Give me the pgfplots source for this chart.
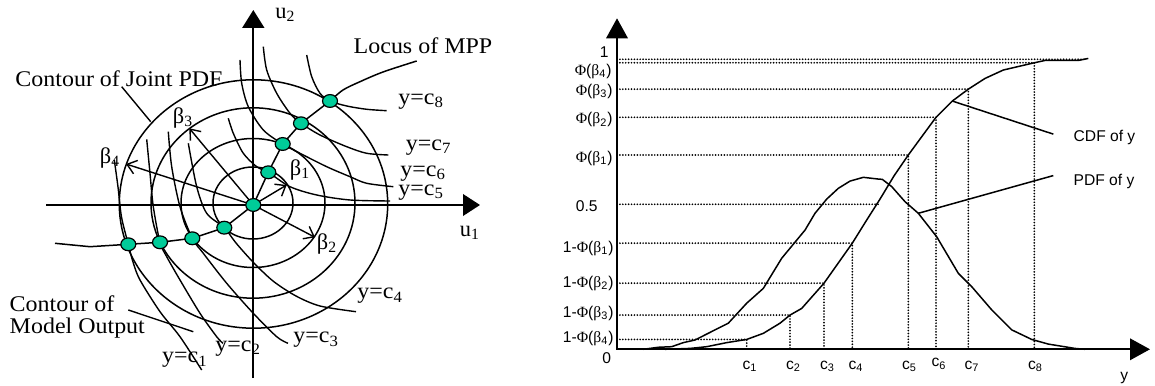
\documentclass[border=0pt]{standalone}
\usepackage{fontspec}
\setmainfont{Liberation Serif}
\newfontfamily\arial{Liberation Sans}
\usepackage{pgfplots}
\pgfplotsset{compat=1.18}
\usetikzlibrary{arrows.meta}
\definecolor{mpp}{RGB}{0,204,153}
\newcommand{\lft}{\fontsize{11.2}{13}\selectfont}
\newcommand{\rgt}{\arial\fontsize{7.8}{9}\selectfont}
\newcommand{\Pb}[1]{{\rmfamily Φ}({\rmfamily β}\textsubscript{#1})}
\tikzset{lt/.style={anchor=west, inner sep=0, font=\lft, xscale=1.07},
         dots/.style={line width=0.95pt, line cap=round, dash pattern=on 0pt off 1.45pt}}
\begin{document}
\begin{tikzpicture}
\useasboundingbox (0,0) rectangle (577.5pt,192.5pt);
% ================= LEFT PANEL (pixel coordinates, y downward) =================
\begin{axis}[at={(0pt,0pt)}, anchor=south west, scale only axis,
  width=577.5pt, height=192.5pt, xmin=0, xmax=1155, ymin=0, ymax=385,
  y dir=reverse, hide axis, clip=false]
% axes
\addplot[line width=0.9pt, -{Triangle[length=8.5pt,width=10.8pt]}] coordinates {(46,205) (480,205)};
\addplot[line width=0.9pt, -{Triangle[length=9pt,width=11pt]}] coordinates {(253.3,378) (253.3,10)};
% contours of joint PDF
\draw[line width=0.75pt] (axis cs:253,203) ellipse [x radius=40, y radius=36];
\draw[line width=0.75pt] (axis cs:253,203) ellipse [x radius=72, y radius=64.5];
\draw[line width=0.75pt] (axis cs:253,203) ellipse [x radius=102, y radius=95.2];
\draw[line width=0.75pt] (axis cs:253.5,204) ellipse [x radius=134.2, y radius=124.2];
% contours of model output y = c_i
\addplot[line width=0.7pt, smooth] coordinates {(114.3,160) (118,187) (121.5,217) (128.3,244.3) (133,262) (140,280) (160,311.7) (180,336.7) (201.7,370)};
\addplot[line width=0.7pt, smooth] coordinates {(146.7,139.3) (150,173.3) (153.3,206.7) (160,242.3) (166.7,256.7) (180,280) (200,313.3) (216.7,336.7) (223,343.3)};
\addplot[line width=0.7pt, smooth] coordinates {(168.3,131.7) (171.7,166.7) (180,206.7) (192.3,238.3) (203.3,253.3) (226.7,283.3) (253.3,313.3) (276.7,336.7) (288,343.3)};
\addplot[line width=0.7pt, smooth] coordinates {(188.3,143.3) (196.7,186.7) (206.7,213.3) (224.3,227.7) (236,243) (253,262) (273,281) (296,296) (320,306) (356,311.7)};
\addplot[line width=0.7pt, smooth] coordinates {(228.3,118.3) (233.3,133.3) (243.3,153.3) (256.7,166.7) (268.3,172.3) (290,186.7) (316.7,195) (350,200) (390,201)};
\addplot[line width=0.7pt, smooth] coordinates {(240,60) (241.7,83.3) (248.3,106.7) (263.3,130) (282.7,144) (300,153.3) (326.7,166.7) (350,176.7) (366.7,183.3) (393.3,186.7)};
\addplot[line width=0.7pt, smooth] coordinates {(263.3,46.7) (266.7,70) (276.7,93.3) (290,113.3) (301,123.3) (320,135) (346.7,146.7) (366.7,153.3) (388.3,155)};
\addplot[line width=0.7pt, smooth] coordinates {(306.7,55) (311.7,76.7) (320,93.3) (330,101) (346.7,106) (366.7,109.3) (386.7,110.7)};
% beta arrows
\addplot[line width=0.7pt, -{Straight Barb[length=4.5pt,width=7pt]}] coordinates {(253.3,205) (286.7,185)};
\addplot[line width=0.7pt, -{Straight Barb[length=4.5pt,width=7pt]}] coordinates {(253.3,205) (315,237.3)};
\addplot[line width=0.7pt, -{Straight Barb[length=4.5pt,width=7pt]}] coordinates {(253.3,205) (189.3,128.3)};
\addplot[line width=0.7pt, -{Straight Barb[length=4.5pt,width=7pt]}] coordinates {(253.3,205) (126,164)};
% locus of MPP
\addplot[line width=0.75pt] coordinates {(55,243.3) (90,246.7) (128.3,244.3) (160,242.3) (192.3,238.3) (224.3,227.7) (253.3,205) (268.3,172.3) (282.7,144) (301,123.3) (330,101)};
\addplot[line width=0.75pt, smooth] coordinates {(330,101) (343,90) (360,81.7) (383,72) (416.7,61)};
% leaders
\addplot[line width=0.7pt] coordinates {(121.7,86.7) (150.7,121.7)};
\addplot[line width=0.7pt] coordinates {(128.3,310) (193.3,331.7)};
% MPP points
\addplot[only marks, mark=*, mark size=3.2pt, mark options={fill=mpp, draw=black, line width=0.6pt, xscale=1.17}] coordinates {(253.3,205) (268.3,172.3) (282.7,144) (301,123.3) (330,101) (224.3,227.7) (192.3,238.3) (160,242.3) (128.3,244.3)};
% texts
\node[lt] at (axis cs:15,78.3) {Contour of Joint PDF};
\node[lt] at (axis cs:353.3,46) {Locus of MPP};
\node[lt] at (axis cs:9.3,304) {Contour of};
\node[lt] at (axis cs:9.3,328.3) {Model Output};
\node[lt] at (axis cs:398,101.7) {y=c\textsubscript{8}};
\node[lt] at (axis cs:405.5,147.3) {y=c\textsubscript{7}};
\node[lt] at (axis cs:400,173.3) {y=c\textsubscript{6}};
\node[lt] at (axis cs:398,192.7) {y=c\textsubscript{5}};
\node[lt] at (axis cs:357,296) {y=c\textsubscript{4}};
\node[lt] at (axis cs:293,340) {y=c\textsubscript{3}};
\node[lt] at (axis cs:215,348.3) {y=c\textsubscript{2}};
\node[lt] at (axis cs:161.7,360) {y=c\textsubscript{1}};
\node[font=\lft] at (axis cs:300,170) {β\textsubscript{1}};
\node[font=\lft] at (axis cs:327,244) {β\textsubscript{2}};
\node[font=\lft] at (axis cs:183,118) {β\textsubscript{3}};
\node[font=\lft] at (axis cs:110,158) {β\textsubscript{4}};
\node[font=\lft] at (axis cs:470,233) {u\textsubscript{1}};
\node[font=\lft] at (axis cs:285.5,15) {u\textsubscript{2}};
\end{axis}
% ================= RIGHT PANEL (x: offset, y: probability) =================
\begin{axis}[at={(0pt,0pt)}, anchor=south west, scale only axis,
  width=577.5pt, height=192.5pt, xmin=-617, xmax=538, ymin=-0.1231, ymax=1.20448,
  hide axis, clip=false]
% dotted guide lines
\addplot[dots] coordinates {(0,1.0) (468,1.0)};
\addplot[dots] coordinates {(0,0.988) (417.3,0.988) (417.3,0)};
\addplot[dots] coordinates {(0,0.897) (351.3,0.897) (351.3,0)};
\addplot[dots] coordinates {(0,0.800) (319,0.800) (319,0)};
\addplot[dots] coordinates {(0,0.670) (291.3,0.670) (291.3,0)};
\addplot[dots] coordinates {(0,0.5) (262,0.5)};
\addplot[dots] coordinates {(0,0.366) (235.3,0.366) (235.3,0)};
\addplot[dots] coordinates {(0,0.228) (207,0.228) (207,0)};
\addplot[dots] coordinates {(0,0.118) (173,0.118) (173,0)};
\addplot[dots] coordinates {(0,0.034) (129.7,0.034) (129.7,0)};
% CDF
\addplot[line width=0.75pt] coordinates {(48,0) (73,0.003) (89.7,0.009) (109.7,0.023) (129.7,0.034) (146.3,0.055) (163,0.090) (173,0.118) (184.7,0.141) (207,0.228) (235.3,0.366) (249,0.442) (263,0.518) (277,0.598) (291.3,0.670) (304.7,0.733) (319,0.800) (335.3,0.856) (351.3,0.897) (368,0.934) (386.3,0.963) (417.3,0.988) (428,0.996) (461.3,0.996) (471.3,1.003)};
% PDF
\addplot[line width=0.75pt] coordinates {(26.3,0) (41.3,0.007) (54.7,0.009) (66.3,0.023) (78,0.032) (98,0.067) (111.3,0.090) (129.7,0.159) (146.3,0.210) (164.7,0.314) (188,0.411) (198,0.469) (209.7,0.518) (221.3,0.555) (233,0.580) (246.3,0.593) (261.3,0.587) (265.3,0.586) (274.7,0.561) (288,0.509) (301.3,0.469) (319.7,0.388) (341.3,0.262) (354.7,0.216) (374.7,0.136) (394.7,0.067) (414.7,0.034) (431.3,0.018) (458,0.003) (468,0)};
% leaders
\addplot[line width=0.75pt] coordinates {(335.3,0.856) (436.3,0.742)};
\addplot[line width=0.75pt] coordinates {(301.3,0.469) (436.3,0.599)};
% axes
\addplot[line width=1.1pt, {Triangle[length=10pt,width=10.7pt]}-{Triangle[length=10pt,width=10.7pt]}] coordinates {(0,1.1414) (0,0) (533,0)};
% texts
\node[anchor=west, inner sep=0, font=\rgt] at (axis cs:456.3,0.731) {CDF of y};
\node[anchor=west, inner sep=0, font=\rgt] at (axis cs:456.3,0.578) {PDF of y};
\node[anchor=east, inner sep=0, font=\rgt] at (axis cs:-8,1.026) {1};
\node[anchor=east, inner sep=0, font=\rgt] at (axis cs:-5,0.957) {\Pb{4}};
\node[anchor=east, inner sep=0, font=\rgt] at (axis cs:-4,0.888) {\Pb{3}};
\node[anchor=east, inner sep=0, font=\rgt] at (axis cs:-4,0.791) {\Pb{2}};
\node[anchor=east, inner sep=0, font=\rgt] at (axis cs:-4,0.659) {\Pb{1}};
\node[anchor=east, inner sep=0, font=\rgt] at (axis cs:-19,0.492) {0.5};
\node[anchor=east, inner sep=0, font=\rgt] at (axis cs:-3,0.348) {1-\Pb{1}};
\node[anchor=east, inner sep=0, font=\rgt] at (axis cs:-3,0.228) {1-\Pb{2}};
\node[anchor=east, inner sep=0, font=\rgt] at (axis cs:-3,0.124) {1-\Pb{3}};
\node[anchor=east, inner sep=0, font=\rgt] at (axis cs:-3,0.038) {1-\Pb{4}};
\node[font=\rgt] at (axis cs:-10.3,-0.031) {0};
\node[font=\rgt] at (axis cs:133,-0.060) {c\textsubscript{1}};
\node[font=\rgt] at (axis cs:176.5,-0.060) {c\textsubscript{2}};
\node[font=\rgt] at (axis cs:210.5,-0.060) {c\textsubscript{3}};
\node[font=\rgt] at (axis cs:239,-0.060) {c\textsubscript{4}};
\node[font=\rgt] at (axis cs:292.5,-0.060) {c\textsubscript{5}};
\node[font=\rgt] at (axis cs:322,-0.050) {c\textsubscript{6}};
\node[font=\rgt] at (axis cs:355,-0.060) {c\textsubscript{7}};
\node[font=\rgt] at (axis cs:418.5,-0.060) {c\textsubscript{8}};
\node[font=\rgt] at (axis cs:507.3,-0.100) {y};
\end{axis}
\end{tikzpicture}
\end{document}
